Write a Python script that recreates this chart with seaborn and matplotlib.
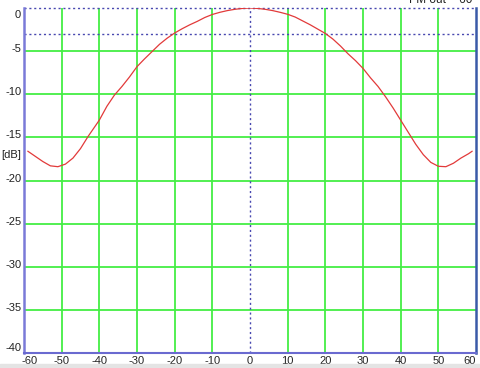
import numpy as np
import pandas as pd
import matplotlib
matplotlib.use("Agg")
import matplotlib.pyplot as plt
import matplotlib.transforms as mtransforms
import seaborn as sns

# Data
angle = [-59, -57, -55, -53, -51, -49, -47, -45, -43, -40, -38, -36, -34, -32, -30,
         -28, -26, -24, -22, -20, -18, -16, -14, -12, -10, -8, -6, -4, -2, 0,
         2, 4, 6, 8, 10, 12, 14, 16, 18, 20, 22, 24, 26, 28, 30,
         32, 34, 36, 38, 40, 42, 44, 46, 48, 50, 52, 54, 56, 58, 59]
gain_db = [-16.6, -17.2, -17.8, -18.3, -18.4, -18.1, -17.4, -16.3, -14.9, -13.0, -11.4, -10.1, -9.1, -8.0, -6.8,
           -5.9, -5.05, -4.2, -3.5, -2.9, -2.4, -1.95, -1.55, -1.1, -0.75, -0.5, -0.3, -0.15, -0.05, 0.0,
           -0.05, -0.15, -0.3, -0.5, -0.73, -1.05, -1.5, -1.95, -2.45, -2.95, -3.6, -4.4, -5.3, -6.1, -7.0,
           -8.1, -9.1, -10.3, -11.6, -13.0, -14.4, -15.8, -17.0, -17.9, -18.35, -18.4, -18.0, -17.4, -16.9, -16.6]
x_ticks = list(range(-60, 61, 10))
y_ticks = list(range(0, -41, -5))
title_text = "FM out ~ 60"
y_label = "[dB]"

sns.set_theme(style="white")
plt.rcParams['font.family'] = ['Liberation Sans', 'DejaVu Sans']

fig = plt.figure(figsize=(4.8, 3.68), dpi=100)
fig.patch.set_facecolor("white")
ax = fig.add_axes([24/480, 1-353/368, (476-24)/480, (353-8)/368])

df = pd.DataFrame({"angle": angle, "gain": gain_db})

green = "#44ee44"
dotblue = "#4848b0"

# grid
for xv in x_ticks:
    if xv in (-60, 60):
        continue
    if xv == 0:
        ax.axvline(0, color=dotblue, lw=1.0, ls=(0, (1.5, 2)), zorder=2)
    else:
        ax.axvline(xv, color=green, lw=1.3, zorder=1)
for yv in y_ticks:
    if yv in (0, -40):
        continue
    ax.axhline(yv, color=green, lw=1.3, zorder=1)
ax.axhline(0, color=dotblue, lw=1.0, ls=(0, (1.5, 2)), zorder=2, clip_on=False)
ax.axhline(-3, color=dotblue, lw=1.0, ls=(0, (1.5, 2)), zorder=2)

sns.lineplot(data=df, x="angle", y="gain", ax=ax, color="#e23a3a", lw=0.9, zorder=3)

ax.set_xlim(-60, 60)
ax.set_ylim(-40, 0)
ax.set_xticks(x_ticks)
ax.set_yticks(y_ticks)
ax.set_xticklabels([str(v) for v in x_ticks])
ax.set_yticklabels([str(v) for v in y_ticks])
ax.tick_params(axis="both", length=0, labelsize=8, colors="#222222")
ax.tick_params(axis="y", pad=2)
ax.tick_params(axis="x", pad=2)
ax.set_xlabel("")
ax.set_ylabel("")

# nudge tick labels like the reference
xlabs = ax.get_xticklabels()
xlabs[0].set_transform(xlabs[0].get_transform() + mtransforms.ScaledTranslation(6/100, 0, fig.dpi_scale_trans))
xlabs[-1].set_transform(xlabs[-1].get_transform() + mtransforms.ScaledTranslation(-6/100, 0, fig.dpi_scale_trans))
ylabs = ax.get_yticklabels()
for i, lab in enumerate(ylabs):
    if i == 0:
        dy = -6
    elif i == len(ylabs) - 1:
        dy = 6
    else:
        dy = 3
    lab.set_transform(lab.get_transform() + mtransforms.ScaledTranslation(0, dy/100, fig.dpi_scale_trans))

ax.spines["top"].set_visible(False)
ax.spines["left"].set_color("#7a7ad8")
ax.spines["left"].set_linewidth(1.8)
ax.spines["bottom"].set_color("#6a6ad0")
ax.spines["bottom"].set_linewidth(1.5)
ax.spines["right"].set_color("#3a5aa8")
ax.spines["right"].set_linewidth(1.8)

fig.text(1/480, 1-155/368, y_label, fontsize=8, color="#222222", ha="left", va="center")
fig.text(472/480, 1-3/368, title_text, fontsize=8.5, color="#222222", ha="right", va="baseline")

# light gray strip at the very bottom
fig.patches.append(plt.Rectangle((0, 0), 1, 4/368, transform=fig.transFigure,
                                 color="#e4e4e4", zorder=0))

fig.savefig("out.png", dpi=100)
